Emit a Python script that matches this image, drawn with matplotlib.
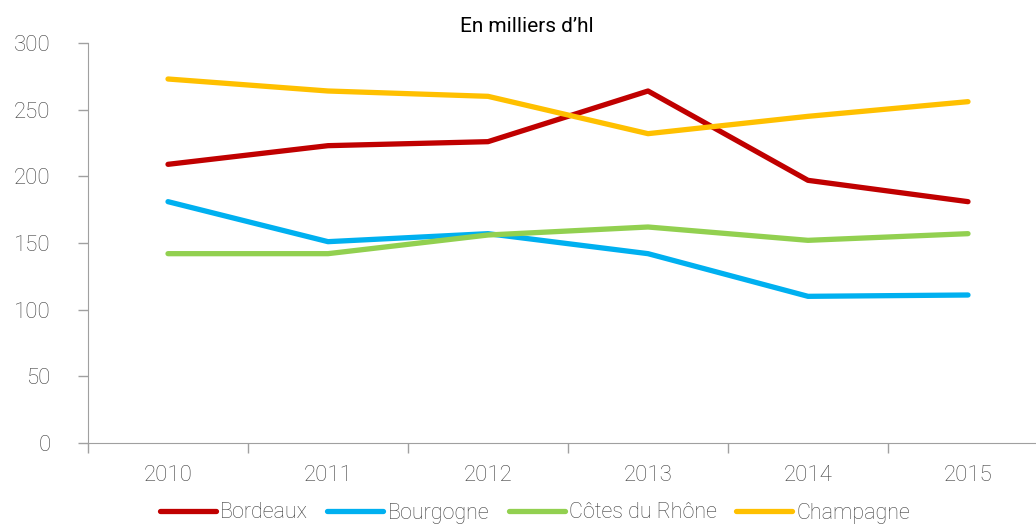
import numpy as np
import matplotlib
matplotlib.use("Agg")
import matplotlib.pyplot as plt

plt.rcParams['font.family'] = ['Roboto', 'DejaVu Sans']

years = ['2010', '2011', '2012', '2013', '2014', '2015']
bordeaux = [209, 223, 226, 264, 197, 181]
bourgogne = [181, 151, 157, 142, 110, 111]
cotes_du_rhone = [142, 142, 156, 162, 152, 157]
champagne = [273, 264, 260, 232, 245, 256]

series = [('Bordeaux', bordeaux, '#C00000'),
          ('Bourgogne', bourgogne, '#00B0F0'),
          ('Côtes du Rhône', cotes_du_rhone, '#92D050'),
          ('Champagne', champagne, '#FFC000')]

grey = '#404040'
fig = plt.figure(figsize=(10.36, 5.24), dpi=100)
ax = fig.add_axes([88/1036, 1-443/524, 960/1036, 400/524])
x = np.arange(len(years))
for name, vals, col in series:
    ax.plot(x, vals, color=col, lw=3.8, solid_capstyle='round', label=name)

ax.set_xlim(-0.5, len(years) - 0.5)
ax.set_ylim(0, 300)
ax.set_yticks(np.arange(0, 301, 50))
ax.set_xticks(np.arange(-0.5, len(years), 1.0))
ax.set_xticklabels([])
ax.set_xticks(x, minor=True)
ax.set_xticklabels(years, minor=True)
ax.tick_params(axis='x', which='minor', length=0, pad=16, labelsize=16, labelcolor=grey)
ax.tick_params(axis='x', which='major', length=7, color='#A0A0A0', width=1)
ax.tick_params(axis='y', length=7, color='#A0A0A0', width=1, labelsize=16, labelcolor=grey, pad=20)
for lab in ax.get_yticklabels() + ax.get_xticklabels(minor=True):
    lab.set_fontweight('light')
for s in ['top', 'right']:
    ax.spines[s].set_visible(False)
for s in ['left', 'bottom']:
    ax.spines[s].set_color('#A0A0A0')

fig.text(527/1036, 1-27/524, 'En milliers d\u2019hl', ha='center', va='center', fontsize=15, color='black')

leg = fig.legend(loc='center', bbox_to_anchor=(535/1036, 1-513/524), ncol=4, frameon=False,
                 fontsize=15.5, handlelength=2.6, columnspacing=0.9, handletextpad=0.2,
                 labelcolor=grey)
for t in leg.get_texts():
    t.set_fontweight('light')

fig.savefig('out.png', dpi=100)
